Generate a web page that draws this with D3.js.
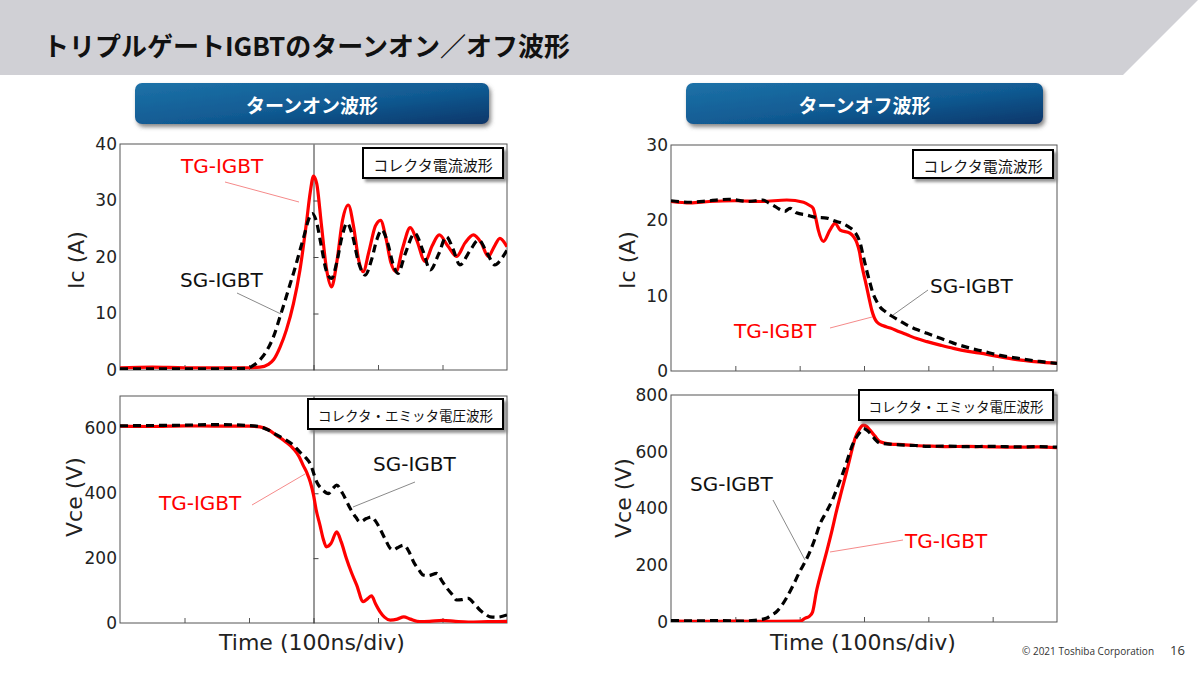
<!DOCTYPE html>
<html><head><meta charset="utf-8">
<script src="https://cdn.jsdelivr.net/npm/d3@7"></script>
<style>body{margin:0;background:#fff;} svg{display:block;}</style>
</head><body>
<svg id="c" width="1200" height="675"></svg>
<script>
// ---------- DATA (time in divisions of 100 ns, values in A or V) ----------
const titleText = "トリプルゲートIGBTのターンオン／オフ波形";
const sectionTitles = ["ターンオン波形", "ターンオフ波形"];
const boxLabels = ["コレクタ電流波形", "コレクタ・エミッタ電圧波形"];
const seriesNames = ["TG-IGBT", "SG-IGBT"];
const xTitle = "Time (100ns/div)";
const yTitles = ["Ic (A)", "Vce (V)"];
const xDivTicks = [1, 2, 3, 4, 5];

const onIcTicks = [0, 10, 20, 30, 40];
const onVceTicks = [0, 200, 400, 600];
const offIcTicks = [0, 10, 20, 30];
const offVceTicks = [0, 200, 400, 600, 800];

const onIcTG = [[0,0.4],[0.5,0.5],[1,0.4],[1.5,0.4],[2.0,0.4],[2.17,0.5],[2.3,1.0],[2.38,1.8],[2.48,4.0],[2.58,7.1],[2.69,11.8],[2.79,17.7],[2.89,26],[2.95,31.5],[3.0,34.3],[3.05,33],[3.12,26],[3.2,18],[3.28,14.7],[3.36,19],[3.45,26.5],[3.54,29.2],[3.62,25.5],[3.7,19.5],[3.77,17.4],[3.86,21],[3.96,25.5],[4.04,26.5],[4.12,23.5],[4.2,19],[4.28,17.4],[4.38,21.5],[4.5,25.2],[4.6,23],[4.73,19.2],[4.84,22],[4.95,23.9],[5.08,22],[5.22,20.1],[5.35,22.5],[5.48,23.9],[5.6,22.5],[5.71,20.1],[5.8,21.8],[5.89,23.3],[6.0,21.8]];
const onIcSG = [[0,0.2],[1,0.2],[1.5,0.2],[1.96,0.3],[2.08,0.9],[2.17,1.8],[2.28,3.5],[2.38,5.9],[2.48,9.4],[2.56,12.3],[2.64,15.3],[2.72,18.3],[2.79,21.2],[2.86,24],[2.92,26.5],[2.98,27.7],[3.04,26.5],[3.12,22],[3.2,17.5],[3.28,16.2],[3.36,19],[3.44,23.5],[3.52,26.0],[3.6,24],[3.7,19],[3.8,16.8],[3.9,19.5],[3.98,23],[4.06,24.8],[4.15,22.5],[4.24,18.5],[4.31,17.1],[4.42,20.5],[4.57,24.2],[4.7,21],[4.81,17.7],[4.94,20.5],[5.06,23.6],[5.16,21.5],[5.27,18.6],[5.42,21],[5.56,23],[5.7,20.5],[5.81,18.6],[5.92,19.8],[6.0,21.2]];

const onVceTG = [[0,607],[0.5,606],[1,608],[1.5,607],[2.0,607],[2.17,605],[2.3,596],[2.43,578],[2.56,560],[2.69,537],[2.78,512],[2.84,486],[2.9,462],[2.95,435],[3.0,395],[3.04,350],[3.1,302],[3.15,260],[3.2,235],[3.27,245],[3.36,281],[3.43,250],[3.51,199],[3.59,155],[3.67,117],[3.77,66],[3.84,75],[3.9,84],[3.96,60],[4.03,35],[4.1,18],[4.19,9],[4.3,12],[4.4,19],[4.5,12],[4.65,4],[4.8,5],[5.0,8],[5.2,5],[5.4,3],[5.7,4],[6.0,5]];
const onVceSG = [[0,608],[0.5,609],[1,610],[1.5,612],[2.0,609],[2.17,605],[2.3,595],[2.43,580],[2.56,566],[2.69,548],[2.79,527],[2.87,512],[2.95,491],[3.05,435],[3.15,409],[3.23,399],[3.3,415],[3.36,425],[3.45,400],[3.57,353],[3.66,325],[3.72,312],[3.82,322],[3.9,327],[3.96,315],[4.03,291],[4.12,255],[4.19,230],[4.24,225],[4.3,232],[4.4,240],[4.48,220],[4.55,189],[4.63,165],[4.7,148],[4.78,146],[4.91,153],[4.99,130],[5.07,107],[5.15,88],[5.22,71],[5.3,72],[5.4,76],[5.49,60],[5.58,40],[5.66,28],[5.74,19],[5.85,18],[6.0,25]];

const offIcTG = [[0,22.5],[0.3,22.3],[0.6,22.5],[1.0,22.6],[1.4,22.5],[1.8,22.7],[2.06,22.4],[2.15,22.0],[2.21,21.6],[2.25,20.3],[2.29,18.7],[2.37,17.2],[2.47,18.7],[2.55,19.6],[2.63,18.7],[2.78,18.3],[2.84,17.8],[2.89,17.0],[2.93,15.8],[2.96,14.3],[3.0,12.7],[3.04,11.2],[3.08,9.6],[3.12,8.1],[3.2,6.5],[3.3,6.0],[3.41,5.7],[3.55,5.2],[3.67,4.8],[3.82,4.3],[3.98,3.9],[4.2,3.4],[4.39,3.0],[4.62,2.6],[4.86,2.3],[5.1,1.9],[5.38,1.5],[5.7,1.2],[6.0,1.0]];
const offIcSG = [[0,22.6],[0.3,22.4],[0.6,22.6],[0.9,22.8],[1.2,22.5],[1.43,22.7],[1.52,22.3],[1.59,22.0],[1.68,21.5],[1.77,21.2],[1.85,21.6],[1.95,21.0],[2.11,20.7],[2.25,20.4],[2.42,20.3],[2.55,19.9],[2.63,19.7],[2.75,19.2],[2.83,18.7],[2.89,18.0],[2.94,17.0],[2.99,15.2],[3.04,13.4],[3.09,11.8],[3.14,10.3],[3.2,9.2],[3.25,8.5],[3.33,7.9],[3.41,7.4],[3.55,6.7],[3.67,6.1],[3.82,5.5],[3.98,5.0],[4.2,4.3],[4.39,3.7],[4.62,3.1],[4.86,2.6],[5.1,2.1],[5.38,1.7],[5.7,1.3],[6.0,1.0]];

const offVceTG = [[0,3],[0.5,2],[1.0,3],[1.5,2],[2.01,3],[2.08,13],[2.15,20],[2.2,35],[2.26,107],[2.34,180],[2.42,248],[2.5,320],[2.57,389],[2.65,460],[2.73,530],[2.8,595],[2.86,647],[2.93,680],[2.99,694],[3.04,690],[3.09,677],[3.17,655],[3.25,635],[3.41,627],[3.6,625],[3.8,622],[4.0,620],[4.3,618],[4.6,619],[5.0,617],[5.4,616],[5.7,617],[6.0,614]];
const offVceSG = [[0,5],[0.4,4],[0.8,5],[1.1,3],[1.3,6],[1.48,13],[1.56,24],[1.64,36],[1.72,58],[1.79,83],[1.9,130],[2.0,177],[2.08,210],[2.16,248],[2.24,295],[2.31,342],[2.42,390],[2.52,436],[2.6,483],[2.68,530],[2.75,577],[2.81,618],[2.88,650],[2.94,670],[2.99,682],[3.05,675],[3.12,659],[3.18,642],[3.25,630],[3.4,627],[3.56,624],[3.8,622],[4.0,619],[4.3,620],[4.6,618],[5.0,619],[5.4,617],[5.7,618],[6.0,616]];

// ---------- DRAWING ----------
const svg = d3.select("#c");
const defs = svg.append("defs");
const CJK = "'Noto Sans CJK JP', sans-serif";
const LAT = "'DejaVu Sans', sans-serif";

const sh = defs.append("filter").attr("id","boxShadow").attr("x","-10%").attr("y","-20%").attr("width","130%").attr("height","160%");
sh.append("feDropShadow").attr("dx",3).attr("dy",3).attr("stdDeviation",1.5).attr("flood-color","#777").attr("flood-opacity",0.8);
const sh2 = defs.append("filter").attr("id","btnShadow").attr("x","-10%").attr("y","-20%").attr("width","130%").attr("height","170%");
sh2.append("feDropShadow").attr("dx",2).attr("dy",3).attr("stdDeviation",2).attr("flood-color","#555").attr("flood-opacity",0.7);
const grad = defs.append("linearGradient").attr("id","btnGrad").attr("x1","0").attr("y1","0").attr("x2","1").attr("y2","1");
grad.append("stop").attr("offset","0%").attr("stop-color","#1d72a8");
grad.append("stop").attr("offset","55%").attr("stop-color","#115a92");
grad.append("stop").attr("offset","100%").attr("stop-color","#0a3669");

// header band
svg.append("path").attr("d","M0,0 L1198,0 L1123,75 L0,75 Z").attr("fill","#d0d0d5");
svg.append("text").attr("x",43).attr("y",56).text(titleText)
  .attr("font-family",CJK).attr("font-weight",700).attr("font-size",26).attr("fill","#111");

// section buttons
[[135,489],[686,1043]].forEach(([x0,x1],i)=>{
  svg.append("rect").attr("x",x0).attr("y",83).attr("width",x1-x0).attr("height",41).attr("rx",7)
    .attr("fill","url(#btnGrad)").attr("filter","url(#btnShadow)");
  svg.append("text").attr("x",(x0+x1)/2).attr("y",104).attr("text-anchor","middle").attr("dominant-baseline","central")
    .attr("font-family",CJK).attr("font-weight",700).attr("font-size",19).attr("fill","#fff").text(sectionTitles[i]);
});

function panel(cfg, idx){
  const x = d3.scaleLinear().domain([0,6]).range([cfg.l, cfg.r]);
  const y = d3.scaleLinear().domain(cfg.yDomain).range([cfg.b, cfg.t]);
  const g = svg.append("g");
  defs.append("clipPath").attr("id","clip"+idx).append("rect")
    .attr("x",cfg.l).attr("y",cfg.t-4).attr("width",cfg.r-cfg.l).attr("height",cfg.b-cfg.t+4);

  // frame
  g.append("rect").attr("x",cfg.l).attr("y",cfg.t).attr("width",cfg.r-cfg.l).attr("height",cfg.b-cfg.t)
    .attr("fill","none").attr("stroke","#555").attr("stroke-width",1);
  // bottom inner ticks
  g.append("g").attr("transform",`translate(0,${cfg.b})`)
    .call(d3.axisBottom(x).tickValues(xDivTicks).tickSize(-5).tickFormat(""))
    .call(s=>s.select(".domain").remove())
    .selectAll("line").attr("stroke","#555");
  // y labels
  g.append("g").attr("transform",`translate(${cfg.l},0)`)
    .call(d3.axisLeft(y).tickValues(cfg.yTicks).tickSize(0).tickPadding(3))
    .call(s=>s.select(".domain").remove())
    .selectAll("text").attr("font-family",LAT).attr("font-size",17).attr("fill","#222");
  // center line with ticks
  if (cfg.mid){
    const m = g.append("g").attr("transform",`translate(${x(3)},0)`)
      .call(d3.axisRight(y).tickValues(cfg.midTicks).tickSize(5).tickSizeOuter(0).tickFormat(""));
    m.select(".domain").attr("stroke","#333");
    m.selectAll("line").attr("stroke","#444");
  }
  // curves
  const line = d3.line().x(d=>x(d[0])).y(d=>y(d[1])).curve(d3.curveMonotoneX);
  const lg = g.append("g").attr("clip-path",`url(#clip${idx})`);
  lg.append("path").datum(cfg.tg).attr("d",line).attr("fill","none").attr("stroke","#ff0000")
    .attr("stroke-width",3.2).attr("stroke-linejoin","round");
  lg.append("path").datum(cfg.sg).attr("d",line).attr("fill","none").attr("stroke","#000")
    .attr("stroke-width",3.2).attr("stroke-dasharray","8,5");

  // box label
  const bx = cfg.box;
  g.append("rect").attr("x",bx[0]).attr("y",bx[1]).attr("width",bx[2]-bx[0]).attr("height",bx[3]-bx[1])
    .attr("fill","#fff").attr("stroke","#000").attr("stroke-width",2).attr("filter","url(#boxShadow)");
  g.append("text").attr("x",(bx[0]+bx[2])/2).attr("y",(bx[1]+bx[3])/2+1).attr("text-anchor","middle")
    .attr("dominant-baseline","central").attr("font-family",CJK).attr("font-size",cfg.boxFs).attr("fill","#111")
    .text(cfg.boxText);

  // series annotations
  cfg.ann.forEach(a=>{
    const isTG = a.name === seriesNames[0];
    g.append("line").attr("x1",a.l[0]).attr("y1",a.l[1]).attr("x2",a.l[2]).attr("y2",a.l[3])
      .attr("stroke", isTG ? "#f58a8a" : "#8a8a8a").attr("stroke-width",1);
    g.append("text").attr("x",a.x).attr("y",a.y).attr("font-family",LAT).attr("font-size",20)
      .attr("fill", isTG ? "#ff0000" : "#111").text(a.name);
  });

  // y title
  g.append("text").attr("transform",`translate(${cfg.yt[0]},${cfg.yt[1]}) rotate(-90)`)
    .attr("text-anchor","middle").attr("dominant-baseline","central")
    .attr("font-family",LAT).attr("font-size",22).attr("fill","#222").text(cfg.yTitle);
  // x title
  if (cfg.xt){
    g.append("text").attr("x",cfg.xt[0]).attr("y",cfg.xt[1]).attr("text-anchor","middle")
      .attr("font-family",LAT).attr("font-size",22).attr("fill","#222").text(xTitle);
  }
}

panel({l:120,r:507,t:144,b:370,yDomain:[0,40],yTicks:onIcTicks,mid:true,midTicks:[10,20,30],
  tg:onIcTG, sg:onIcSG, box:[363,148,503,178], boxText:boxLabels[0], boxFs:15,
  ann:[{name:seriesNames[0],x:181,y:173,l:[225,182,299,202]},{name:seriesNames[1],x:180,y:287,l:[237,293,281,314]}],
  yt:[76,260], yTitle:yTitles[0]}, 1);
panel({l:120,r:507,t:396,b:623,yDomain:[0,700],yTicks:onVceTicks,mid:true,midTicks:[200,400,600],
  tg:onVceTG, sg:onVceSG, box:[308,399,503,429], boxText:boxLabels[1], boxFs:13.5,
  ann:[{name:seriesNames[0],x:159,y:510,l:[252,505,305,474]},{name:seriesNames[1],x:373,y:471,l:[415,482,353,507]}],
  yt:[74,497], yTitle:yTitles[1], xt:[312,650]}, 2);
panel({l:671,r:1057,t:145,b:371,yDomain:[0,30],yTicks:offIcTicks,mid:false,
  tg:offIcTG, sg:offIcSG, box:[913,150,1053,178], boxText:boxLabels[0], boxFs:15,
  ann:[{name:seriesNames[0],x:734,y:338,l:[830,328,872,317]},{name:seriesNames[1],x:930,y:293,l:[928,290,893,315]}],
  yt:[627,260], yTitle:yTitles[0]}, 3);
panel({l:671,r:1057,t:395,b:622,yDomain:[0,800],yTicks:offVceTicks,mid:false,
  tg:offVceTG, sg:offVceSG, box:[859,390,1053,420], boxText:boxLabels[1], boxFs:13.5,
  ann:[{name:seriesNames[0],x:905,y:548,l:[903,540,830,552]},{name:seriesNames[1],x:690,y:491,l:[773,500,805,560]}],
  yt:[623,498], yTitle:yTitles[1], xt:[863,650]}, 4);

// footer
svg.append("text").attr("x",1022).attr("y",655).attr("font-family","'Open Sans', sans-serif").attr("font-size",10)
  .attr("fill","#333").text("© 2021 Toshiba Corporation");
svg.append("text").attr("x",1170).attr("y",655).attr("font-family","'Open Sans', sans-serif").attr("font-size",13)
  .attr("fill","#333").text("16");
</script>
</body></html>
